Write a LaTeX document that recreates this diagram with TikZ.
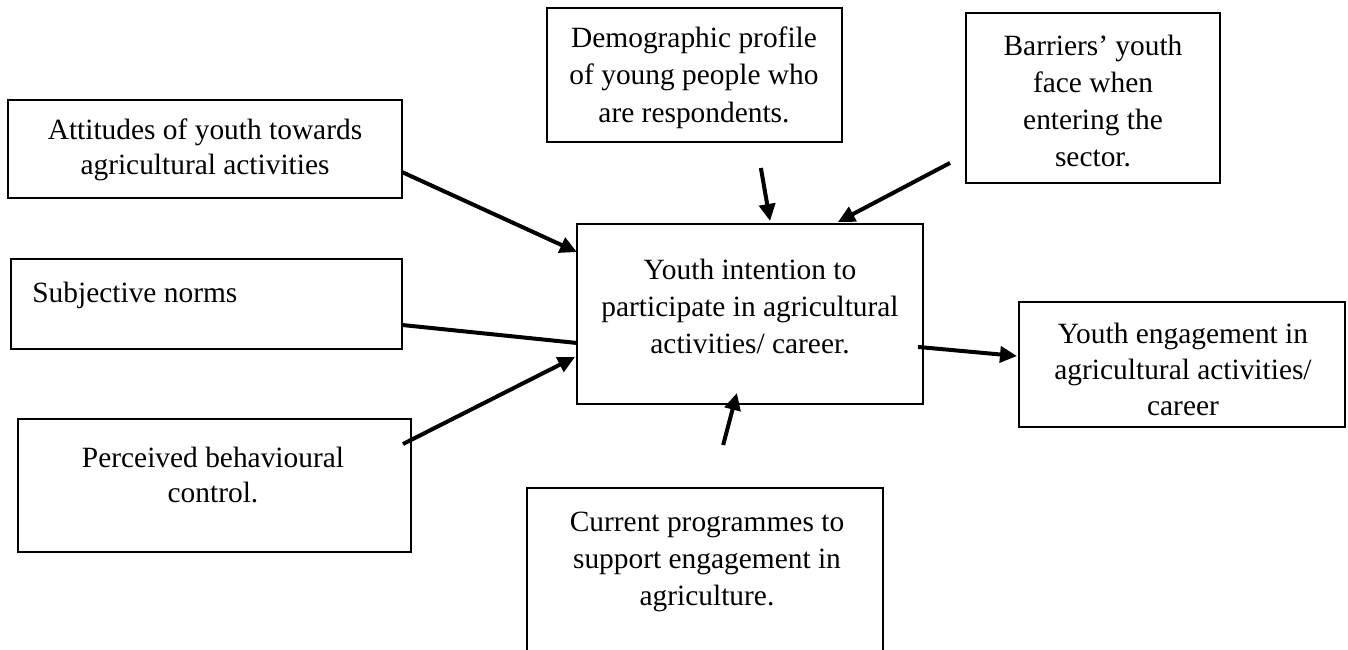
\documentclass[tikz,border=0pt]{standalone}
\usepackage{fontspec}
\setmainfont{Liberation Serif}
\usetikzlibrary{arrows.meta,calc}
\begin{document}
\begin{tikzpicture}[x=0.5pt,y=-0.5pt]
\tikzset{
  box/.style={draw, line width=1.35pt, inner sep=0pt, outer sep=0pt, anchor=north west},
  txt/.style={align=center, inner sep=0pt, font=\fontsize{14.7pt}{18pt}\selectfont},
  tight/.style={font=\fontsize{14.7pt}{17.5pt}\selectfont},
  arr/.style={line width=2pt, -{Triangle[length=8.5pt,width=8pt]}},
  ln/.style={line width=2pt},
}
\clip (0,0) rectangle (1348,649);
\fill[white] (0,0) rectangle (1348,649);

% boxes
\node[box, minimum width=197pt, minimum height=49pt] (att) at (8,100) {};
\node[box, minimum width=195.5pt, minimum height=45pt] (sub) at (11,259) {};
\node[box, minimum width=196.5pt, minimum height=66.5pt] (perc) at (18,419) {};
\node[box, minimum width=147.5pt, minimum height=67pt] (demo) at (547,8) {};
\node[box, minimum width=127pt, minimum height=85pt] (barr) at (966,13) {};
\node[box, minimum width=173pt, minimum height=90pt] (cent) at (577,224) {};
\node[box, minimum width=163pt, minimum height=62.5pt] (eng) at (1019,302) {};
\node[box, minimum width=178pt, minimum height=100pt] (curr) at (527,488) {};

% texts
\node[txt, tight] (attT) at (205,149.5) {Attitudes of youth towards\\agricultural activities};
\node[txt, anchor=west] (subT) at (32,295) {Subjective norms};
\node[txt, tight] (percT) at (213,474.5) {Perceived behavioural\\control.};
\node[txt, font=\fontsize{14.7pt}{18.7pt}\selectfont] (demoT) at (694,77.5) {Demographic profile\\of young people who\\are respondents.};
\node[txt, font=\fontsize{14.7pt}{18.6pt}\selectfont] (barrT) at (1093,101) {Barriers’ youth\\face when\\entering the\\sector.};
\node[txt, font=\fontsize{14.7pt}{18.5pt}\selectfont] (centT) at (750,306) {Youth intention to\\participate in agricultural\\activities/ career.};
\node[txt, font=\fontsize{14.7pt}{17.8pt}\selectfont] (engT) at (1183,369.5) {Youth engagement in\\agricultural activities/\\career};
\node[txt, font=\fontsize{14.7pt}{18.5pt}\selectfont] (currT) at (707,562) {Current programmes to\\support engagement in\\agriculture.};

% connectors
\draw[arr] ($(att.north east)!0.735!(att.south east)$) -- ($(cent.north west)!0.156!(cent.south west)$);
\draw[ln] ($(sub.north east)!0.733!(sub.south east)$) -- ($(cent.north west)!0.661!(cent.south west)$);
\draw[arr] ($(perc.north east)!0.188!(perc.south east)+(-8,0)$) -- ($(cent.north west)!0.739!(cent.south west)+(-2,0)$);
\draw[arr] ($(demo.south west)!0.725!(demo.south east)+(0,26)$) -- ($(cent.north west)!0.558!(cent.north east)+(0,-3)$);
\draw[arr] ($(barr.north west)!0.882!(barr.south west)+(-16,0)$) -- ($(cent.north west)!0.754!(cent.north east)+(0,-2)$);
\draw[arr] ($(cent.north east)!0.683!(cent.south east)+(-5,0)$) -- ($(eng.north west)!0.432!(eng.south west)+(-2,0)$);
\draw[arr] ($(curr.north west)!0.551!(curr.north east)+(0,-43)$) -- ($(cent.south west)!0.462!(cent.south east)+(0,-11)$);
\end{tikzpicture}
\end{document}
